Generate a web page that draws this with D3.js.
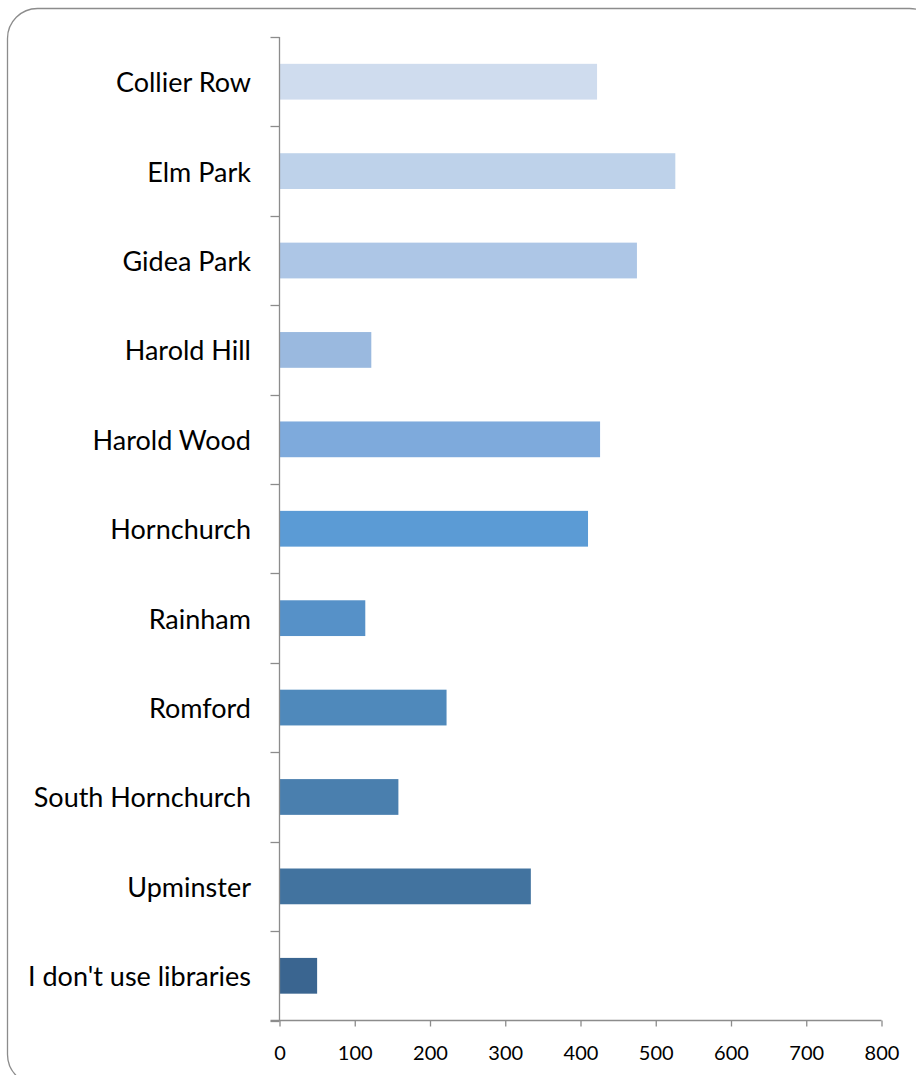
<!DOCTYPE html>
<html>
<head>
<meta charset="utf-8">
<script src="https://cdn.jsdelivr.net/npm/d3@7"></script>
<style>
  html, body { margin: 0; padding: 0; background: #fff; }
  svg { display: block; }
  text { font-family: Lato, "Open Sans", sans-serif; fill: #000; }
</style>
</head>
<body>
<svg id="chart" width="916" height="1075"></svg>
<script>
const categories = ["Collier Row", "Elm Park", "Gidea Park", "Harold Hill", "Harold Wood",
  "Hornchurch", "Rainham", "Romford", "South Hornchurch", "Upminster", "I don't use libraries"];
const values = [422, 526, 475, 122, 426, 410, 114, 222, 158, 334, 50];
const barColors = ["#cfdcee", "#bed2ea", "#adc6e6", "#9ab9df", "#7eaadc", "#5b9bd5",
  "#5691c8", "#4f89bb", "#4a7fae", "#42739f", "#3a6590"];
const xTicks = [0, 100, 200, 300, 400, 500, 600, 700, 800];

const svg = d3.select("#chart");

// outer rounded border
svg.append("rect")
  .attr("x", 7.5).attr("y", 8.5)
  .attr("width", 932).attr("height", 1076)
  .attr("rx", 30).attr("ry", 30)
  .attr("fill", "none").attr("stroke", "#8c8c8c").attr("stroke-width", 1.3);

const plotLeft = 279.5, plotRight = 881.5, plotTop = 37, plotBottom = 1020.5;

const x = d3.scaleLinear().domain([0, 800]).range([plotLeft, plotRight]);
const y = d3.scaleBand().domain(categories).range([plotTop, plotBottom]).paddingInner(0).paddingOuter(0);
const barFrac = 0.4;

// bars
svg.append("g").selectAll("rect")
  .data(categories)
  .join("rect")
  .attr("x", x(0))
  .attr("y", d => y(d) + y.bandwidth() * (1 - barFrac) / 2)
  .attr("width", (d, i) => x(values[i]) - x(0))
  .attr("height", y.bandwidth() * barFrac)
  .attr("fill", (d, i) => barColors[i]);

const axisColor = "#8c8c8c";

// y axis line + ticks at band boundaries
const yAxisG = svg.append("g");
yAxisG.append("line")
  .attr("x1", plotLeft).attr("x2", plotLeft).attr("y1", plotTop).attr("y2", plotBottom)
  .attr("stroke", axisColor).attr("stroke-width", 1.3);
const boundaries = categories.map(c => y(c)).concat([plotBottom]);
yAxisG.selectAll("line.tick")
  .data(boundaries)
  .join("line")
  .attr("class", "tick")
  .attr("x1", plotLeft - 9).attr("x2", plotLeft)
  .attr("y1", d => Math.round(d) + 0.5).attr("y2", d => Math.round(d) + 0.5)
  .attr("stroke", axisColor).attr("stroke-width", 1.3);

// category labels
svg.append("g").selectAll("text")
  .data(categories)
  .join("text")
  .attr("x", 251)
  .attr("y", d => y(d) + y.bandwidth() / 2)
  .attr("text-anchor", "end")
  .attr("dominant-baseline", "central")
  .attr("font-size", 27)
  .text(d => d);

// x axis
const xAxisG = svg.append("g").attr("transform", `translate(0,${plotBottom})`);
xAxisG.call(d3.axisBottom(x).tickValues(xTicks).tickSize(6).tickSizeOuter(0).tickFormat(d3.format("d")));
xAxisG.select(".domain").remove();
xAxisG.append("line")
  .attr("x1", plotLeft - 9).attr("x2", plotRight).attr("y1", 0).attr("y2", 0)
  .attr("stroke", axisColor).attr("stroke-width", 1.3);
xAxisG.selectAll(".tick line").attr("stroke", axisColor).attr("stroke-width", 1.3);
xAxisG.selectAll(".tick text")
  .attr("font-family", "Lato, 'Open Sans', sans-serif")
  .attr("font-size", 20)
  .attr("fill", "#000")
  .attr("dy", null)
  .attr("y", 39);
</script>
</body>
</html>
